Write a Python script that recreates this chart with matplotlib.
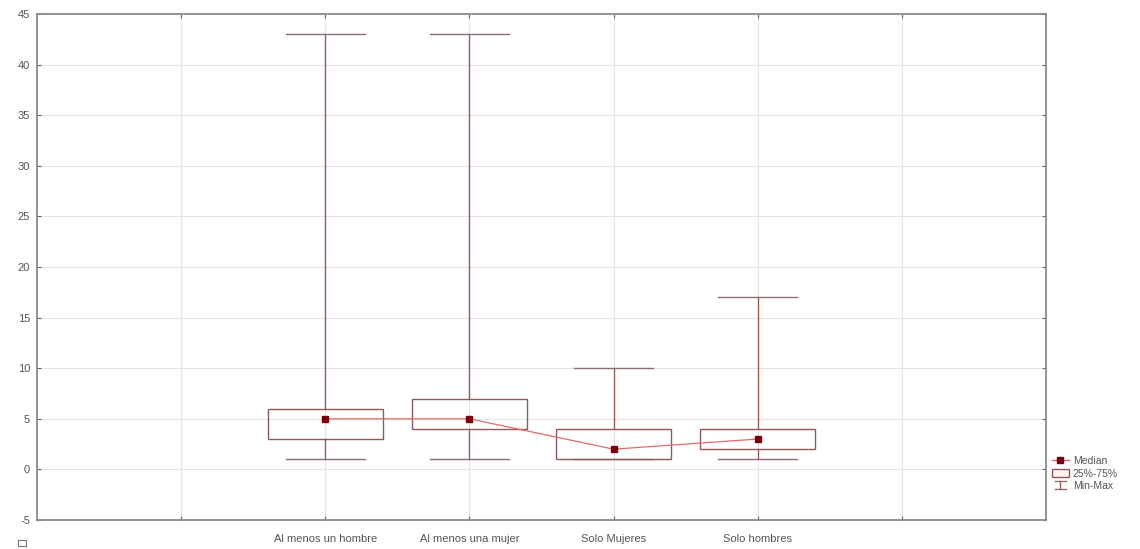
import matplotlib
matplotlib.use("Agg")
import matplotlib.pyplot as plt
from matplotlib.lines import Line2D
from matplotlib.patches import Rectangle
from matplotlib.legend_handler import HandlerBase

plt.rcParams['font.family'] = ['Liberation Sans', 'DejaVu Sans']
plt.rcParams['axes.unicode_minus'] = False

categories = ["Al menos un hombre", "Al menos una mujer", "Solo Mujeres", "Solo hombres"]
mins = [1, 1, 1, 1]
q1 = [3, 4, 1, 2]
medians = [5, 5, 2, 3]
q3 = [6, 7, 4, 4]
maxs = [43, 43, 10, 17]
yticks = [-5, 0, 5, 10, 15, 20, 25, 30, 35, 40, 45]

BOX_C = "#8c5a5a"
WHISK_C = "#a05a5a"
CAP_C = "#8a7070"
MED_LINE_C = "#e06a6a"
MED_MARK_C = "#7a0010"
SPINE_C = "#8a8a8a"
GRID_C = "#e4e4e4"
TXT_C = "#555555"

fig = plt.figure(figsize=(11.4, 5.49), dpi=100)
ax = fig.add_axes([37/1140, 29/549, (1046-37)/1140, (520-14)/549])

pos = list(range(1, len(categories) + 1))
bw = 0.8
cw = 0.55
for x, mn, a, m, b, mx in zip(pos, mins, q1, medians, q3, maxs):
    ax.add_patch(Rectangle((x - bw/2, a), bw, b - a, facecolor="none",
                           edgecolor=BOX_C, linewidth=1.0, zorder=3))
    ax.plot([x, x], [b, mx], color=WHISK_C, lw=1.0, zorder=2)
    ax.plot([x, x], [mn, a], color=WHISK_C, lw=1.0, zorder=2)
    ax.plot([x - cw/2, x + cw/2], [mx, mx], color=CAP_C, lw=1.0, zorder=2)
    ax.plot([x - cw/2, x + cw/2], [mn, mn], color=CAP_C, lw=1.0, zorder=2)

ax.plot(pos, medians, color=MED_LINE_C, lw=0.9, zorder=4)
ax.plot(pos, medians, linestyle="none", marker="s", markersize=5,
        color=MED_MARK_C, zorder=5)

ax.set_xlim(-1, 6)
ax.set_ylim(-5, 45)
ax.set_xticks(range(0, 6))
ax.set_xticklabels([""] + categories + [""])
ax.set_yticks(yticks)
ax.grid(True, color=GRID_C, linewidth=0.8, zorder=0)
ax.set_axisbelow(True)
for s in ax.spines.values():
    s.set_color(SPINE_C)
    s.set_linewidth(1.3)
ax.tick_params(direction="in", length=3, color="#666666", labelsize=8,
               labelcolor=TXT_C, top=True, right=True, pad=5)
ax.tick_params(axis="x", pad=10)


class HandlerMinMax(HandlerBase):
    def create_artists(self, legend, orig_handle, xdescent, ydescent,
                       width, height, fontsize, trans):
        cx = width / 2 - xdescent
        l1 = Line2D([cx, cx], [-ydescent + 0.1*height, -ydescent + height], color=WHISK_C, lw=1, transform=trans)
        l2 = Line2D([cx - width*0.35, cx + width*0.35], [-ydescent + 0.1*height]*2, color=CAP_C, lw=1, transform=trans)
        l3 = Line2D([cx - width*0.35, cx + width*0.35], [-ydescent + height]*2, color=CAP_C, lw=1, transform=trans)
        return [l1, l2, l3]


class MinMaxKey:
    pass


h_med = Line2D([], [], color=MED_LINE_C, lw=1, marker="s", markersize=5,
               markerfacecolor=MED_MARK_C, markeredgecolor=MED_MARK_C)
h_box = Rectangle((0, 0), 1, 1, facecolor="#fdf3f0", edgecolor=BOX_C, lw=1)
h_mm = MinMaxKey()
fig.legend([h_med, h_box, h_mm], ["Median", "25%-75%", "Min-Max"],
           handler_map={MinMaxKey: HandlerMinMax()},
           loc="upper left", bbox_to_anchor=(1050/1140, 1 - 454/549),
           frameon=False, fontsize=7.5, labelcolor=TXT_C,
           handlelength=1.6, handleheight=0.9, handletextpad=0.4,
           labelspacing=0.25, borderpad=0.2, borderaxespad=0)

fig.add_artist(Rectangle((18/1140, 1 - 546/549), 8/1140, 6/549,
                         transform=fig.transFigure, facecolor="none",
                         edgecolor="#777777", lw=0.8))

fig.savefig("out.png", dpi=100)
